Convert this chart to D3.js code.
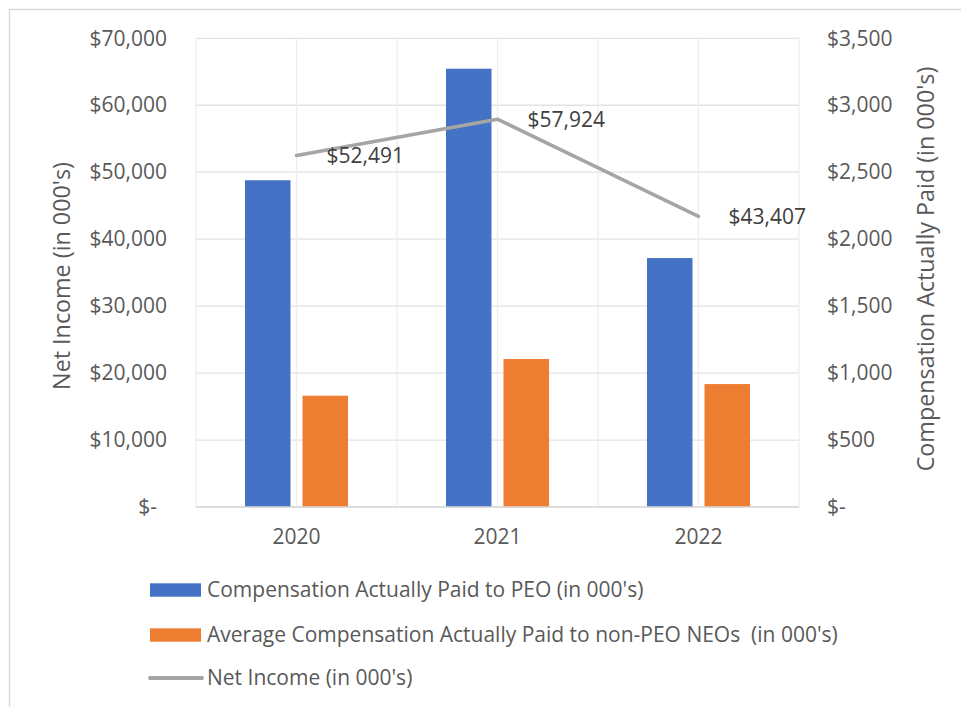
<!DOCTYPE html>
<html>
<head>
<meta charset="utf-8">
<script src="https://cdn.jsdelivr.net/npm/d3@7"></script>
<style>
  body { margin: 0; background: #fff; }
  svg { display: block; }
  text { white-space: pre; }
</style>
</head>
<body>
<svg width="961" height="707"></svg>
<script>
// chart values
const years = ["2020", "2021", "2022"];
const peoPay = [2440, 3273, 1859];
const neoPay = [831, 1105, 918];
const netIncome = [52491, 57924, 43407];
const leftTicks = [0, 10000, 20000, 30000, 40000, 50000, 60000, 70000];
const rightTicks = [0, 500, 1000, 1500, 2000, 2500, 3000, 3500];
const seriesNames = [
  "Compensation Actually Paid to PEO (in 000's)",
  "Average Compensation Actually Paid to non-PEO NEOs  (in 000's)",
  "Net Income (in 000's)"
];

const render = () => {
  const svg = d3.select("svg")
      .attr("font-family", "'Open Sans', sans-serif")
      .attr("fill", "#595959");

  const left = 196, right = 799, top = 38.3, bottom = 507;
  const txt = "#595959";
  const fs = 21;

  // outer chart frame
  svg.append("rect")
      .attr("x", 9.5).attr("y", 9.5)
      .attr("width", 970).attr("height", 720)
      .attr("fill", "none")
      .attr("stroke", "#d9d9d9")
      .attr("stroke-width", 1.5);

  const x = d3.scaleBand().domain(years).range([left, right]);
  const yL = d3.scaleLinear().domain([0, 70000]).range([bottom, top]);
  const yR = d3.scaleLinear().domain([0, 3500]).range([bottom, top]);

  const fmt = d3.format(",");
  const money = v => v === 0 ? "$-" : "$" + fmt(v);

  // horizontal gridlines
  svg.append("g")
      .attr("stroke", "#e3e3e3")
      .attr("stroke-width", 1.3)
    .selectAll("line")
    .data(leftTicks)
    .join("line")
      .attr("x1", left).attr("x2", right)
      .attr("y1", d => yL(d)).attr("y2", d => yL(d));

  // vertical gridlines at category edges and centres
  const vx = [];
  years.forEach(y => { vx.push(x(y)); vx.push(x(y) + x.bandwidth() / 2); });
  vx.push(right);
  svg.append("g")
      .attr("stroke", "#eeeeee")
      .attr("stroke-width", 1.3)
    .selectAll("line")
    .data(vx)
    .join("line")
      .attr("x1", d => d).attr("x2", d => d)
      .attr("y1", top).attr("y2", bottom);

  // bars (right axis)
  const barW = 45.5, gap = 6;
  const cx = d => x(d) + x.bandwidth() / 2;
  svg.append("g").selectAll("rect")
    .data(years)
    .join("rect")
      .attr("x", d => cx(d) - gap - barW)
      .attr("y", (d, i) => yR(peoPay[i]))
      .attr("width", barW)
      .attr("height", (d, i) => yR(0) - yR(peoPay[i]))
      .attr("fill", "#4472c4");
  svg.append("g").selectAll("rect")
    .data(years)
    .join("rect")
      .attr("x", d => cx(d) + gap)
      .attr("y", (d, i) => yR(neoPay[i]))
      .attr("width", barW)
      .attr("height", (d, i) => yR(0) - yR(neoPay[i]))
      .attr("fill", "#ed7d31");

  // baseline
  svg.append("line")
      .attr("x1", left).attr("x2", right)
      .attr("y1", bottom).attr("y2", bottom)
      .attr("stroke", "#d9d9d9").attr("stroke-width", 1.5);

  // net income line (left axis)
  const line = d3.line()
      .x((d, i) => cx(years[i]))
      .y(d => yL(d));
  svg.append("path")
      .datum(netIncome)
      .attr("d", line)
      .attr("fill", "none")
      .attr("stroke", "#a5a5a5")
      .attr("stroke-width", 3.5)
      .attr("stroke-linecap", "round")
      .attr("stroke-linejoin", "round");

  svg.append("g").selectAll("text")
    .data(netIncome)
    .join("text")
      .attr("x", (d, i) => cx(years[i]) + 30)
      .attr("y", d => yL(d))
      .attr("dy", "0.35em")
      .attr("font-size", fs)
      .attr("fill", "#404040")
      .text(d => "$" + fmt(d));

  // left axis
  const axL = svg.append("g")
      .attr("transform", `translate(${left},0)`)
      .call(d3.axisLeft(yL).tickValues(leftTicks).tickFormat(money).tickSize(0).tickPadding(29));
  axL.select(".domain").remove();
  axL.selectAll("text")
      .attr("font-size", fs)
      .attr("font-family", "'Open Sans', sans-serif")
      .attr("fill", txt)
      .attr("dx", d => d === 0 ? -10 : 0);

  // right axis
  const axR = svg.append("g")
      .attr("transform", `translate(${right},0)`)
      .call(d3.axisRight(yR).tickValues(rightTicks).tickFormat(money).tickSize(0).tickPadding(28));
  axR.select(".domain").remove();
  axR.selectAll("text")
      .attr("font-size", fs)
      .attr("font-family", "'Open Sans', sans-serif")
      .attr("fill", txt);

  // category axis
  const axX = svg.append("g")
      .attr("transform", `translate(0,${bottom})`)
      .call(d3.axisBottom(x).tickSize(0).tickPadding(22));
  axX.select(".domain").remove();
  axX.selectAll("text")
      .attr("font-size", fs)
      .attr("font-family", "'Open Sans', sans-serif")
      .attr("fill", txt);

  // axis titles
  svg.append("text")
      .attr("transform", `translate(62,276) rotate(-90)`)
      .attr("text-anchor", "middle")
      .attr("dy", "0.35em")
      .attr("font-size", 23.3)
      .text("Net Income (in 000's)");
  svg.append("text")
      .attr("transform", `translate(926,269) rotate(-90)`)
      .attr("text-anchor", "middle")
      .attr("dy", "0.35em")
      .attr("font-size", 23.3)
      .text("Compensation Actually Paid (in 000's)");

  // legend
  const legY = [590, 635, 678];
  const leg = svg.append("g").selectAll("g")
    .data(seriesNames)
    .join("g")
      .attr("transform", (d, i) => `translate(0,${legY[i]})`);
  leg.filter((d, i) => i < 2).append("rect")
      .attr("x", 150).attr("y", -6.7)
      .attr("width", 51).attr("height", 13.4)
      .attr("fill", (d, i) => i === 0 ? "#4472c4" : "#ed7d31");
  leg.filter((d, i) => i === 2).append("line")
      .attr("x1", 150).attr("x2", 202)
      .attr("stroke", "#a5a5a5")
      .attr("stroke-width", 4)
      .attr("stroke-linecap", "round");
  leg.append("text")
      .attr("x", 207)
      .attr("dy", "0.35em")
      .attr("font-size", fs)
      .text(d => d);
};

render();
</script>
</body>
</html>
